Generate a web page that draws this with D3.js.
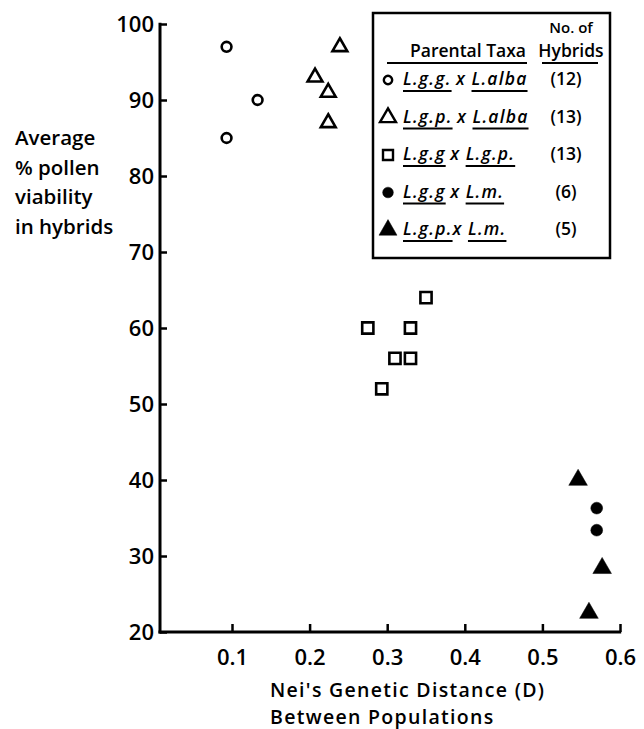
<!DOCTYPE html>
<html>
<head>
<meta charset="utf-8">
<script src="https://cdn.jsdelivr.net/npm/d3@7"></script>
<style>
  body { margin: 0; background: #fff; }
  text { font-family: "Open Sans", Lato, sans-serif; fill: #000; }
</style>
</head>
<body>
<div id="chart"></div>
<script>
// data: [genetic distance D, % pollen viability]
var ggAlba = [[0.093, 97], [0.133, 90], [0.093, 85]];
var gpAlba = [[0.239, 97], [0.207, 93], [0.224, 91], [0.224, 87]];
var ggGp = [[0.275, 60], [0.31, 56], [0.33, 56], [0.33, 60], [0.35, 64], [0.293, 52]];
var ggLm = [[0.570, 36.3], [0.570, 33.4]];
var gpLm = [[0.546, 40], [0.577, 28.4], [0.560, 22.5]];

var xTicks = [0.1, 0.2, 0.3, 0.4, 0.5, 0.6];
var yTicks = [20, 30, 40, 50, 60, 70, 80, 90, 100];

var taxa = [
  [["L.g.g.", true], [" x ", false], ["L.alba", true]],
  [["L.g.p.", true], [" x ", false], ["L.alba", true]],
  [["L.g.g", true], [" x ", false], ["L.g.p.", true]],
  [["L.g.g", true], [" x ", false], ["L.m.", true]],
  [["L.g.p.", true], ["x ", false], ["L.m.", true]]
];
var counts = ["(12)", "(13)", "(13)", "(6)", "(5)"];

var svg = d3.select("#chart").append("svg")
  .attr("width", 644)
  .attr("height", 729);

var x = d3.scaleLinear().domain([0, 0.6]).range([154.4, 620]);
var y = d3.scaleLinear().domain([20, 100]).range([632, 24]);
var x0 = 160; // where the axes meet

// series styles
var series = [
  { pts: ggAlba, type: d3.symbolCircle, size: 75, fill: "none" },
  { pts: gpAlba, type: d3.symbolTriangle, size: 95, fill: "none" },
  { pts: ggGp, type: d3.symbolSquare, size: 125, fill: "none" },
  { pts: ggLm, type: d3.symbolCircle, size: 110, fill: "#000" },
  { pts: gpLm, type: d3.symbolTriangle, size: 150, fill: "#000" }
];

// axes
var gx = svg.append("g").attr("transform", "translate(0,632)")
  .call(d3.axisBottom(x).tickValues(xTicks).tickSize(-8).tickPadding(17)
    .tickFormat(d3.format(".1f")));
gx.select(".domain").remove();
gx.selectAll(".tick line").attr("stroke", "#000").attr("stroke-width", 2.5);
gx.selectAll(".tick text").attr("font-size", 22).attr("font-weight", 600);
svg.append("line").attr("x1", x0 - 1.5).attr("x2", x(0.6) + 1.2)
  .attr("y1", 632).attr("y2", 632).attr("stroke", "#000").attr("stroke-width", 3);

var gy = svg.append("g").attr("transform", "translate(" + x0 + ",0)")
  .call(d3.axisLeft(y).tickValues(yTicks).tickSize(-7).tickPadding(6));
gy.select(".domain").remove();
gy.selectAll(".tick line").attr("stroke", "#000").attr("stroke-width", 2.5);
gy.selectAll(".tick text").attr("font-size", 22).attr("font-weight", 600)
  .attr("dy", "0.36em");
svg.append("line").attr("x1", x0).attr("x2", x0)
  .attr("y1", y(100) - 1.2).attr("y2", 633.5).attr("stroke", "#000").attr("stroke-width", 3);

// axis titles
svg.append("text").attr("x", 270).attr("y", 697)
  .attr("font-size", 19.5).attr("font-weight", 600).attr("letter-spacing", 1.3)
  .text("Nei's Genetic Distance (D)");
svg.append("text").attr("x", 270).attr("y", 724)
  .attr("font-size", 19.5).attr("font-weight", 600).attr("letter-spacing", 1.3)
  .text("Between Populations");

var yt = svg.append("text").attr("font-size", 20.5).attr("font-weight", 600);
["Average", "% pollen", "viability", "in hybrids"].forEach(function(s, i) {
  yt.append("tspan").attr("x", 15).attr("y", 145 + i * 29.5).text(s);
});

// points
series.forEach(function(s) {
  svg.append("g").selectAll("path")
    .data(s.pts)
    .enter().append("path")
    .attr("transform", function(d) { return "translate(" + x(d[0]) + "," + y(d[1]) + ")"; })
    .attr("d", d3.symbol().type(s.type).size(s.size))
    .attr("fill", s.fill)
    .attr("stroke", "#000")
    .attr("stroke-width", s.fill == "none" ? 2.6 : 0.5);
});

// legend
var lg = svg.append("g");
lg.append("rect").attr("x", 373).attr("y", 13).attr("width", 237).attr("height", 245)
  .attr("fill", "#fff").attr("stroke", "#000").attr("stroke-width", 2.5);

lg.append("text").attr("x", 571).attr("y", 33).attr("text-anchor", "middle")
  .attr("font-size", 15).attr("font-weight", 600).text("No. of");
lg.append("text").attr("x", 571).attr("y", 57).attr("text-anchor", "middle")
  .attr("font-size", 17.5).attr("font-weight", 600).text("Hybrids");
lg.append("text").attr("x", 526).attr("y", 57).attr("text-anchor", "end")
  .attr("font-size", 17.5).attr("font-weight", 600).text("Parental Taxa");
lg.append("line").attr("x1", 387).attr("x2", 527).attr("y1", 63).attr("y2", 63)
  .attr("stroke", "#000").attr("stroke-width", 2);
lg.append("line").attr("x1", 542).attr("x2", 598).attr("y1", 63).attr("y2", 63)
  .attr("stroke", "#000").attr("stroke-width", 2);

var legendSizes = [55, 110, 100, 90, 140];
taxa.forEach(function(parts, i) {
  var cy = 80 + i * 37.5;
  var s = series[i];
  lg.append("path")
    .attr("transform", "translate(388," + cy + ")")
    .attr("d", d3.symbol().type(s.type).size(legendSizes[i]))
    .attr("fill", s.fill)
    .attr("stroke", "#000")
    .attr("stroke-width", s.fill == "none" ? 2.4 : 0.5);

  var tx = 403;
  parts.forEach(function(p) {
    var t = lg.append("text").attr("x", tx).attr("y", cy + 5)
      .attr("font-size", 17.5).attr("font-weight", 600)
      .attr("font-style", "italic")
      .attr("letter-spacing", p[1] ? 1.2 : 0)
      .attr("xml:space", "preserve")
      .style("white-space", "pre")
      .text(p[0]);
    var w = t.node().getComputedTextLength();
    if (p[1]) {
      lg.append("line").attr("x1", tx).attr("x2", tx + w)
        .attr("y1", cy + 11).attr("y2", cy + 11)
        .attr("stroke", "#000").attr("stroke-width", 2);
    }
    tx += w + (p[1] ? 0 : 2);
  });

  lg.append("text").attr("x", 566).attr("y", cy + 5).attr("text-anchor", "middle")
    .attr("font-size", 17.5).attr("font-weight", 600).text(counts[i]);
});
</script>
</body>
</html>
